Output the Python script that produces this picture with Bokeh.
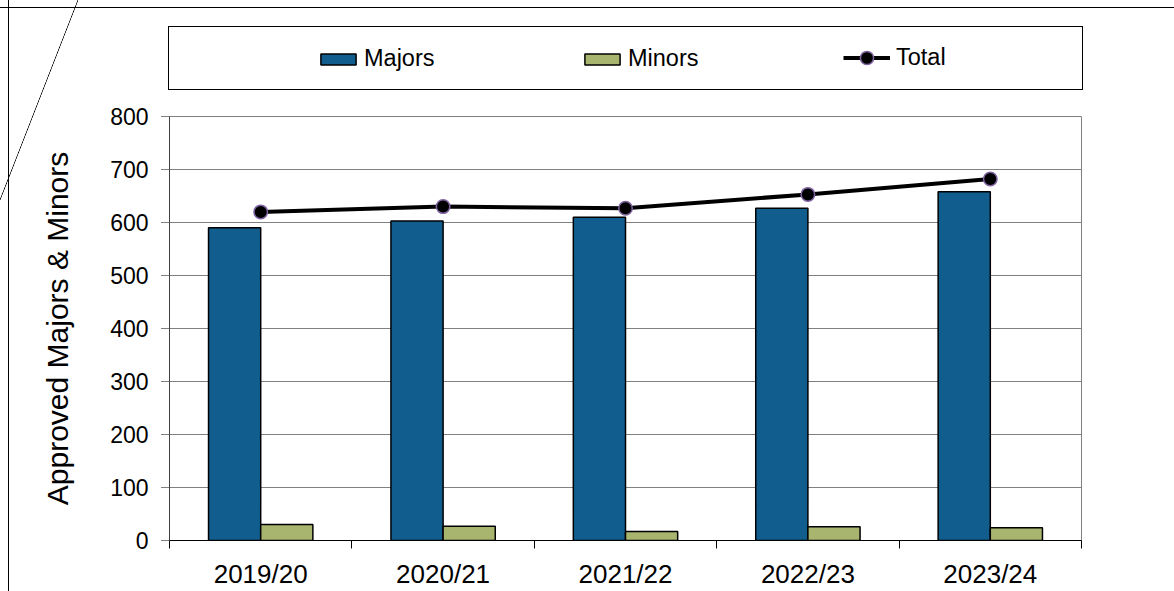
from bokeh.plotting import figure
from bokeh.layouts import column
from bokeh.models import (ColumnDataSource, Range1d, LinearAxis, FixedTicker, Legend, LegendItem)
from bokeh.transform import dodge
from bokeh.embed import file_html
from bokeh.resources import INLINE

# ---- data ----
categories = ["2019/20", "2020/21", "2021/22", "2022/23", "2023/24"]
majors = [590, 603, 610, 627, 658]
minors = [30, 27, 17, 26, 24]
total = [620, 630, 627, 653, 682]
y_ticks = [0, 100, 200, 300, 400, 500, 600, 700, 800]
y_label = "Approved Majors & Minors"

FONT = "Liberation Sans"
MAJ_COLOR = "#115E8E"
MIN_COLOR = "#A8B56E"
RING = "#8064A2"

n = len(categories)
centers = [i + 0.5 for i in range(n)]          # category slots on a 0..n axis
bounds = list(range(n + 1))                    # slot boundaries (tick marks)

source = ColumnDataSource(dict(xc=centers, cat=categories, majors=majors, minors=minors, total=total))

# decorative frame lines (outer frame, legend box, stray diagonal) drawn as CSS backgrounds
line = "linear-gradient(#000, #000)"
diag = ("linear-gradient(to bottom right, rgba(0,0,0,0) calc(50% - 0.7px), #000 50%, "
        "rgba(0,0,0,0) calc(50% + 0.7px))")
bg_layers = [
    (diag, "78px 200px", "0px 0px"),
    (line, "100% 1px", "0px 7px"),
    (line, "1px 100%", "8px 0px"),
    (line, "915px 1px", "168px 26px"),
    (line, "915px 1px", "168px 89px"),
    (line, "1px 64px", "168px 26px"),
    (line, "1px 64px", "1082px 26px"),
]
css = {
    "background-image": ", ".join(b[0] for b in bg_layers),
    "background-size": ", ".join(b[1] for b in bg_layers),
    "background-position": ", ".join(b[2] for b in bg_layers),
    "background-repeat": "no-repeat",
}

# ---------------- main chart ----------------
p = figure(width=1174, height=491,
           x_range=Range1d(0, n),
           y_range=Range1d(y_ticks[0], y_ticks[-1]),
           output_backend="svg", toolbar_location=None, x_axis_location=None,
           min_border_left=169, min_border_right=93, min_border_top=16, min_border_bottom=50,
           background_fill_color="white", border_fill_color=None,
           outline_line_color="#808080", outline_line_width=1)
p.xgrid.visible = False

yticker = FixedTicker(ticks=y_ticks, minor_ticks=[])
yax = p.yaxis[0]
yax.ticker = yticker
yax.axis_label = y_label
yax.axis_label_text_font = FONT
yax.axis_label_text_font_size = "30px"
yax.axis_label_text_font_style = "normal"
yax.axis_label_text_color = "black"
yax.axis_label_standoff = 33
yax.major_label_text_font = FONT
yax.major_label_text_font_size = "23px"
yax.major_label_text_color = "black"
yax.major_label_standoff = 13
yax.major_tick_out = 8
yax.major_tick_in = 0
yax.major_tick_line_color = "black"
yax.major_tick_line_dash = "1 1"
yax.minor_tick_line_color = None
yax.axis_line_color = "#404040"
p.ygrid[0].ticker = yticker
p.ygrid.grid_line_color = "black"
p.ygrid.grid_line_dash = "1 1"
p.ygrid.grid_line_width = 1

tick_axis = LinearAxis(ticker=FixedTicker(ticks=bounds, minor_ticks=[]),
                       major_tick_out=8, major_tick_in=0, major_tick_line_color="black",
                       axis_line_color="black", minor_tick_line_color=None,
                       major_label_text_font_size="0px", major_label_standoff=0,
                       major_label_overrides={b: "" for b in bounds})
cat_axis = LinearAxis(ticker=FixedTicker(ticks=centers, minor_ticks=[]),
                      major_label_overrides={c: lab for c, lab in zip(centers, categories)},
                      major_tick_line_color=None, major_tick_out=0, major_tick_in=0,
                      axis_line_color=None, minor_tick_line_color=None,
                      major_label_text_font=FONT, major_label_text_font_size="26px",
                      major_label_text_color="black", major_label_standoff=10)
p.add_layout(tick_axis, "below")
p.add_layout(cat_axis, "below")

bw = 0.286
maj_style = dict(fill_color=MAJ_COLOR, line_color="black", line_width=1.5)
min_style = dict(fill_color=MIN_COLOR, line_color="black", line_width=1.5)
line_style = dict(line_color="black", line_width=4)
pt_style = dict(fill_color="black", line_color=RING, line_width=1.5)

p.vbar(x=dodge("xc", -bw / 2), top="majors", width=bw, source=source, **maj_style)
p.vbar(x=dodge("xc", bw / 2), top="minors", width=bw, source=source, **min_style)
p.line(x="xc", y="total", source=source, **line_style)
p.scatter(x="xc", y="total", source=source, size=13.5, **pt_style)

# ---------------- legend strip ----------------
# key renderers are hidden (and their ranges lie outside the data): they only style the legend
lf = figure(width=1174, height=100, x_range=Range1d(-20, -10), y_range=Range1d(-20, -10),
            output_backend="svg", toolbar_location=None,
            x_axis_location=None, y_axis_location=None,
            min_border_left=0, min_border_right=0, min_border_top=0, min_border_bottom=0,
            background_fill_color=None, border_fill_color=None, outline_line_color=None)
lf.xgrid.visible = False
lf.ygrid.visible = False

k_maj = lf.vbar(x="xc", top="majors", width=bw, source=source, visible=False, **maj_style)
k_min = lf.vbar(x="xc", top="minors", width=bw, source=source, visible=False, **min_style)
k_line = lf.line(x="xc", y="total", source=source, visible=False, **line_style)
k_pt = lf.scatter(x="xc", y="total", source=source, visible=False, **pt_style)


def add_legend(label, renderers, loc, gw, gh, standoff):
    lg = Legend(items=[LegendItem(label=label, renderers=renderers)], location=loc,
                orientation="horizontal", glyph_width=gw, glyph_height=gh,
                label_standoff=standoff, padding=0, margin=0, spacing=0,
                border_line_color=None, background_fill_alpha=0, inactive_fill_alpha=0,
                label_text_font=FONT, label_text_font_size="23.5px", label_text_color="black")
    lf.add_layout(lg, "center")


add_legend("Majors", [k_maj], (147, 28), 44, 14, 4)
add_legend("Minors", [k_min], (411, 28), 44, 14, 4)
add_legend("Total", [k_line, k_pt], (674, 26), 47, 33, 6)

layout = column(lf, p, spacing=0, styles=css)

open("out.html", "w").write(file_html(layout, INLINE))
